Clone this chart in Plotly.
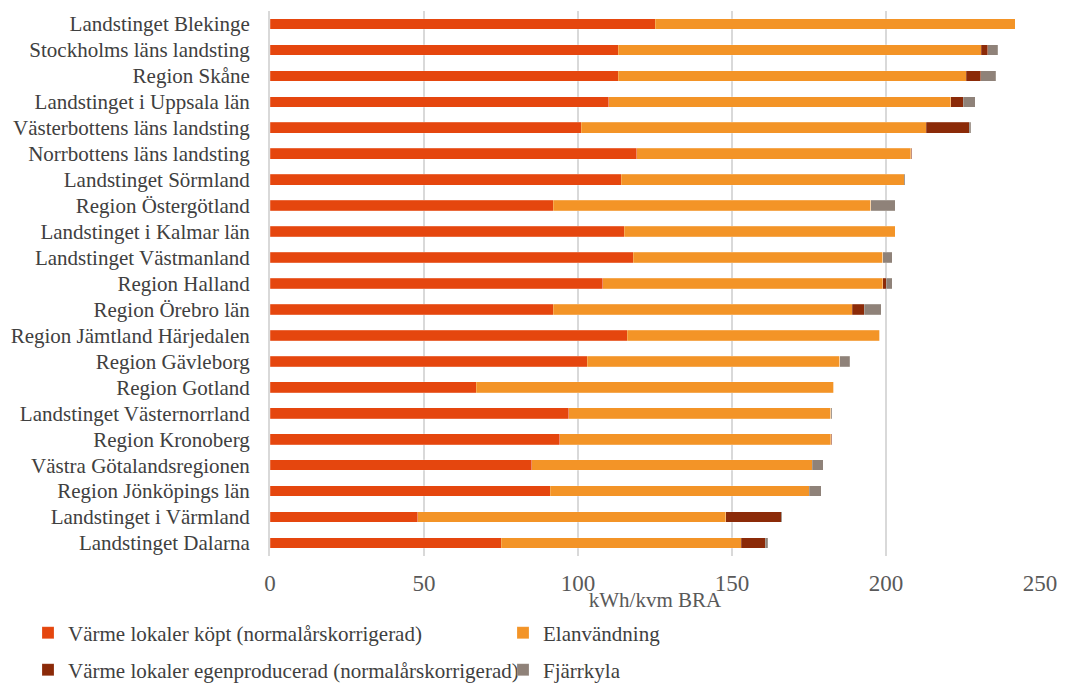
import plotly.graph_objects as go

categories = [
    "Landstinget Blekinge", "Stockholms läns landsting", "Region Skåne",
    "Landstinget i Uppsala län", "Västerbottens läns landsting",
    "Norrbottens läns landsting", "Landstinget Sörmland", "Region Östergötland",
    "Landstinget i Kalmar län", "Landstinget Västmanland", "Region Halland",
    "Region Örebro län", "Region Jämtland Härjedalen", "Region Gävleborg",
    "Region Gotland", "Landstinget Västernorrland", "Region Kronoberg",
    "Västra Götalandsregionen", "Region Jönköpings län", "Landstinget i Värmland",
    "Landstinget Dalarna",
]
varme_kopt = [125, 113, 113, 110, 101, 119, 114, 92, 115, 118, 108, 92, 116, 103, 67, 97, 94, 85, 91, 48, 75]
elanvandning = [117, 118, 113, 111, 112, 89, 92, 103, 88, 81, 91, 97, 82, 82, 116, 85, 88, 91, 84, 100, 78]
varme_egen = [0, 2, 4.8, 4, 14, 0.4, 0, 0, 0, 0, 1, 4, 0, 0, 0, 0, 0.4, 0, 0, 18, 7.8]
fjarrkyla = [0, 3.3, 4.8, 4, 0.5, 0, 0.2, 8, 0, 3, 2, 5.5, 0, 3.2, 0, 0.4, 0, 3.6, 4, 0.3, 0.8]

series = [
    ("Värme lokaler köpt (normalårskorrigerad)", varme_kopt, "#E5460E", "legend"),
    ("Elanvändning", elanvandning, "#F39427", "legend2"),
    ("Värme lokaler egenproducerad (normalårskorrigerad)", varme_egen, "#8B2A08", "legend3"),
    ("Fjärrkyla", fjarrkyla, "#8F8279", "legend4"),
]

FONT = "Liberation Serif, Times New Roman, serif"
TXT = "#404040"
W, H = 1057, 675  # page body adds an 8px offset

fig = go.Figure()
for name, vals, col, lg in series:
    fig.add_trace(go.Bar(
        y=categories, x=vals, name=name, orientation="h", legend=lg,
        showlegend=True,
        marker=dict(color=col, line=dict(color="rgba(255,255,255,0.4)", width=0.5)),
    ))

legend_common = dict(
    orientation="h", xref="container", yref="container",
    xanchor="left", yanchor="middle",
    font=dict(family=FONT, size=21, color=TXT),
    bgcolor="rgba(0,0,0,0)",
)
row1 = (H - 625) / H
row2 = (H - 662) / H
col1 = 20 / W
col2 = 495 / W

fig.update_layout(
    showlegend=True,
    barmode="stack",
    bargap=0.59,
    width=W, height=H,
    margin=dict(l=262, r=25, t=3, b=127),
    paper_bgcolor="white", plot_bgcolor="white",
    font=dict(family=FONT, color=TXT, size=21),
    legend=dict(legend_common, x=col1, y=row1),
    legend2=dict(legend_common, x=col2, y=row1),
    legend3=dict(legend_common, x=col1, y=row2),
    legend4=dict(legend_common, x=col2, y=row2),
    xaxis=dict(
        range=[0, 250], tickvals=[0, 50, 100, 150, 200, 250],
        showgrid=True, gridcolor="#D9D9D9", gridwidth=1.5,
        zeroline=False, showline=False, automargin=False,
        ticks="outside", ticklen=6, tickcolor="rgba(0,0,0,0)",
        tickfont=dict(family=FONT, size=23, color="#595959"),
        title=dict(text="kWh/kvm BRA", standoff=0,
                   font=dict(family=FONT, size=21, color="#595959")),
    ),
    yaxis=dict(
        autorange="reversed", automargin=False,
        showline=True, linecolor="#D9D9D9", linewidth=2,
        ticks="outside", ticklen=14, tickcolor="rgba(0,0,0,0)",
        tickfont=dict(family=FONT, size=21, color=TXT),
        showgrid=False,
    ),
)

fig.write_html("out.html")
